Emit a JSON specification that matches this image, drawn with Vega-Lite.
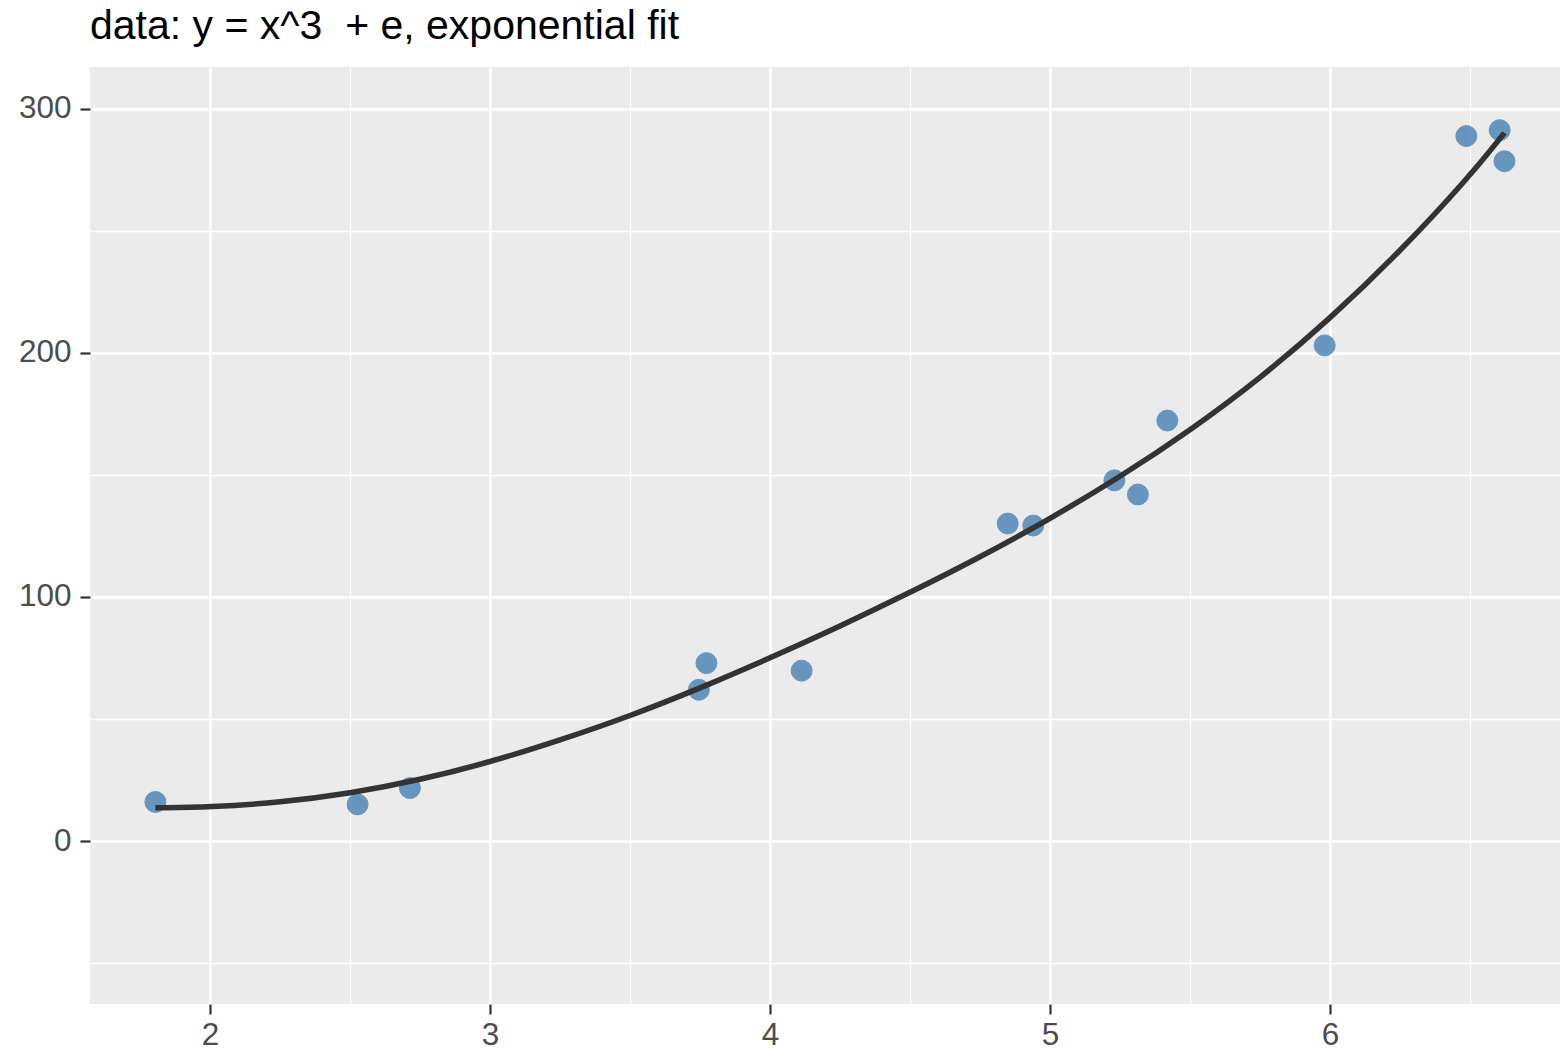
{
  "$schema": "https://vega.github.io/schema/vega-lite/v6.json",
  "autosize": {"type": "none"},
  "padding": {"left": 90, "top": 67, "right": 0, "bottom": 48},
  "width": 1470,
  "height": 937,
  "background": "white",
  "title": {
    "text": "data: y = x^3\u00a0 + e, exponential fit",
    "anchor": "start",
    "frame": "group",
    "baseline": "alphabetic",
    "offset": -13,
    "font": "Liberation Sans",
    "fontSize": 41,
    "fontWeight": "normal",
    "color": "#000000"
  },
  "config": {
    "view": {"fill": "#EBEBEB", "stroke": null},
    "axis": {
      "gridColor": "#FFFFFF",
      "domain": false,
      "labelFont": "Liberation Sans",
      "labelFontSize": 31.5,
      "labelColor": "#4D4D4D",
      "tickColor": "#333333",
      "tickWidth": 2.2,
      "tickSize": 10,
      "title": null
    }
  },
  "datasets": {
    "points": [
      {"x": 1.805, "y": 16.0},
      {"x": 2.527, "y": 15.0},
      {"x": 2.714, "y": 21.7},
      {"x": 3.746, "y": 62.0},
      {"x": 3.773, "y": 72.9},
      {"x": 4.113, "y": 69.8},
      {"x": 4.849, "y": 130.1},
      {"x": 4.940, "y": 129.3},
      {"x": 5.230, "y": 147.8},
      {"x": 5.314, "y": 142.0},
      {"x": 5.419, "y": 172.3},
      {"x": 5.981, "y": 203.1},
      {"x": 6.487, "y": 288.9},
      {"x": 6.606, "y": 291.3},
      {"x": 6.623, "y": 278.6}
    ],
    "fit": [
      {"x": 1.805, "y": 13.6},
      {"x": 2.0, "y": 13.8},
      {"x": 2.25, "y": 15.8},
      {"x": 2.5, "y": 19.5},
      {"x": 2.75, "y": 25.0},
      {"x": 3.0, "y": 32.3},
      {"x": 3.25, "y": 41.3},
      {"x": 3.5, "y": 51.2},
      {"x": 3.75, "y": 62.6},
      {"x": 4.0, "y": 75.0},
      {"x": 4.25, "y": 88.0},
      {"x": 4.5, "y": 101.8},
      {"x": 4.75, "y": 116.3},
      {"x": 5.0, "y": 132.0},
      {"x": 5.25, "y": 149.2},
      {"x": 5.5, "y": 168.2},
      {"x": 5.75, "y": 189.5},
      {"x": 6.0, "y": 214.0},
      {"x": 6.25, "y": 241.5},
      {"x": 6.5, "y": 272.5},
      {"x": 6.623, "y": 290.2}
    ]
  },
  "layer": [
    {
      "data": {"name": "points"},
      "mark": {"type": "point", "filled": true, "size": 440, "color": "#4682B4", "opacity": 0.8, "stroke": "#4682B4", "strokeWidth": 1},
      "encoding": {
        "x": {
          "field": "x", "type": "quantitative",
          "scale": {"domain": [1.5714, 6.8214], "nice": false, "zero": false},
          "axis": {"orient": "bottom", "values": [2, 3, 4, 5, 6], "grid": true, "gridWidth": 2.6, "labelPadding": 5, "format": "d"}
        },
        "y": {
          "field": "y", "type": "quantitative",
          "scale": {"domain": [-66.8, 317.2], "nice": false, "zero": false},
          "axis": {"orient": "left", "values": [0, 100, 200, 300], "grid": true, "gridWidth": 2.6, "labelPadding": 9, "format": "d"}
        }
      }
    },
    {
      "data": {"name": "fit"},
      "mark": {"type": "line", "color": "#333333", "strokeWidth": 5.5, "interpolate": "basis"},
      "encoding": {
        "x": {
          "field": "x", "type": "quantitative",
          "scale": {"domain": [1.5714, 6.8214], "nice": false, "zero": false},
          "axis": {"orient": "top", "values": [2.5, 3.5, 4.5, 5.5, 6.5], "grid": true, "gridWidth": 1.3, "labels": false, "ticks": false, "domain": false}
        },
        "y": {
          "field": "y", "type": "quantitative",
          "scale": {"domain": [-66.8, 317.2], "nice": false, "zero": false},
          "axis": {"orient": "right", "values": [-50, 50, 150, 250], "grid": true, "gridWidth": 1.3, "labels": false, "ticks": false, "domain": false}
        }
      }
    }
  ],
  "resolve": {"axis": {"x": "independent", "y": "independent"}}
}
